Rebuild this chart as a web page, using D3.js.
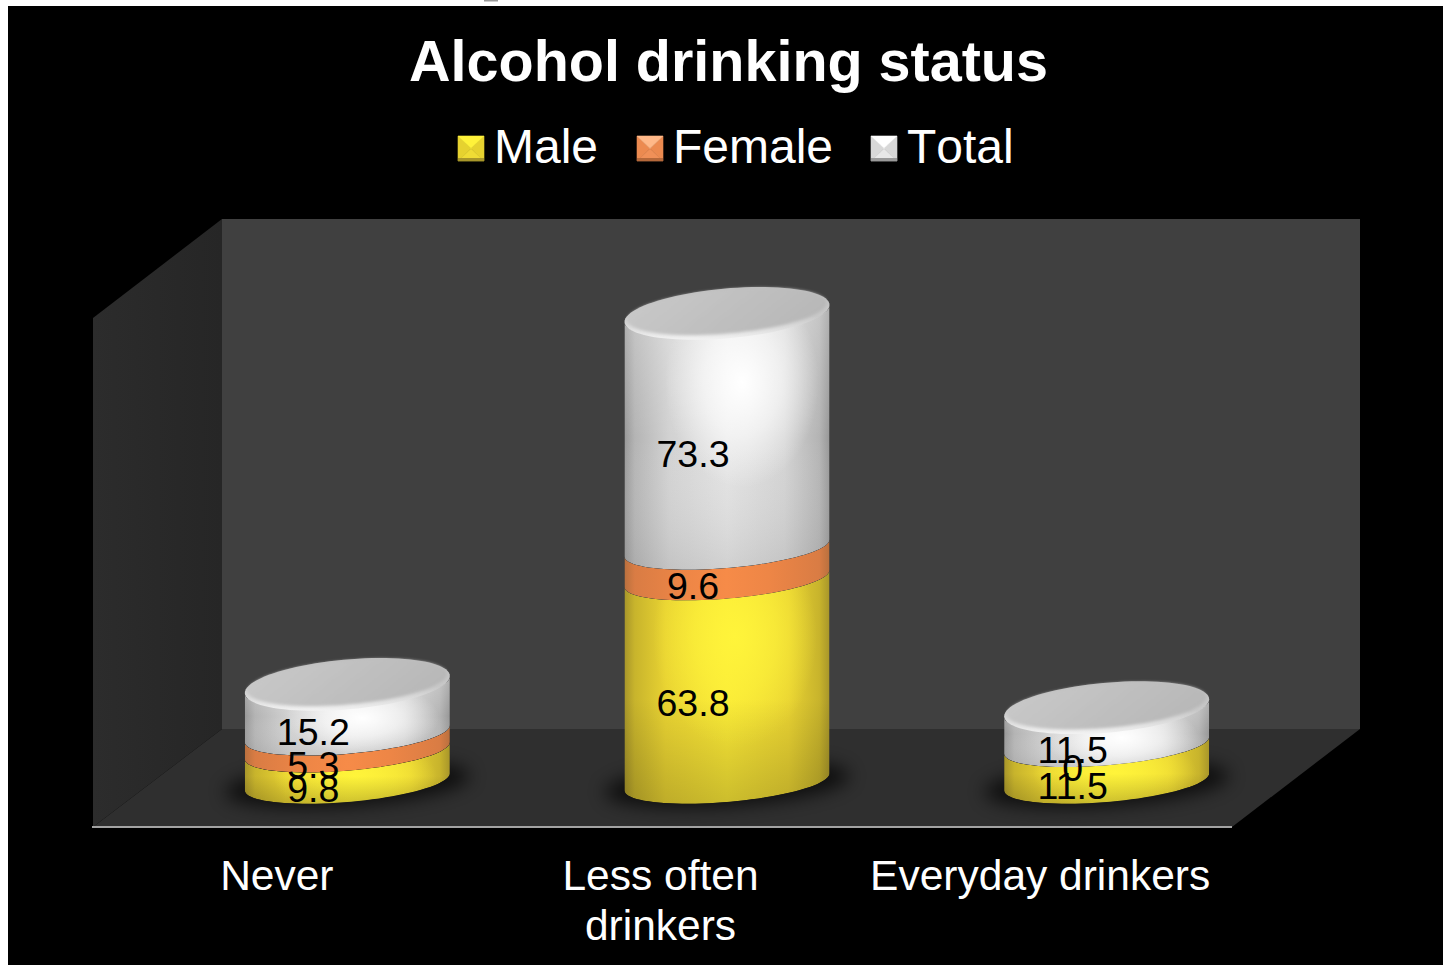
<!DOCTYPE html>
<html><head><meta charset="utf-8">
<script src="https://cdn.jsdelivr.net/npm/d3@7"></script>
<style>html,body{margin:0;padding:0;background:#fff;overflow:hidden}svg{display:block}text{font-family:"Liberation Sans",Arial,sans-serif}</style>
</head><body><svg id="c" width="1443" height="965"></svg>
<script>
const categories = ["Never", "Less often drinkers", "Everyday drinkers"];
const seriesNames = ["Male", "Female", "Total"];
const male = [9.8, 63.8, 11.5];
const female = [5.3, 9.6, 0];
const total = [15.2, 73.3, 11.5];
const labelText = [["9.8","5.3","15.2"],["63.8","9.6","73.3"],["11.5","0","11.5"]];
const title = "Alcohol drinking status";

const svg = d3.select("#c");
const defs = svg.append("defs");
svg.append("rect").attr("x",8).attr("y",6).attr("width",1435).attr("height",959).attr("fill","#000");
svg.append("rect").attr("x",484).attr("y",0).attr("width",14).attr("height",1.5).attr("fill","#999");

// scales
const y = d3.scaleLinear().domain([0,160]).range([782,272]);
const x = d3.scaleBand().domain(categories).range([157.5,1296.5]).paddingInner(0.46).paddingOuter(0.23);
const xFront = d3.scaleBand().domain(categories).range([93,1232]);

function grad(id, stops, o={x1:0,y1:0,x2:1,y2:0}){
  const g = defs.append("linearGradient").attr("id",id);
  Object.entries(o).forEach(([k,v])=>g.attr(k,v));
  stops.forEach(s=>g.append("stop").attr("offset",s[0]).attr("stop-color",s[1]).attr("stop-opacity",s[2]===undefined?1:s[2]));
}
function radial(id, color, op){
  const h = defs.append("radialGradient").attr("id",id).attr("cx",.5).attr("cy",.5).attr("r",.5);
  h.append("stop").attr("offset",0).attr("stop-color",color).attr("stop-opacity",op);
  h.append("stop").attr("offset",.5).attr("stop-color",color).attr("stop-opacity",op*.6);
  h.append("stop").attr("offset",1).attr("stop-color",color).attr("stop-opacity",0);
}
grad("leftWall",[[0,"#2c2c2c"],[1,"#262626"]]);
grad("side0",[[0,"#a8962a"],[.05,"#c8b42c"],[.2,"#e8d232"],[.5,"#f8e636"],[.8,"#e8d232"],[.95,"#c8b42c"],[1,"#a8962a"]]);
grad("side1",[[0,"#b9703e"],[.05,"#d97c44"],[.3,"#ee8646"],[.5,"#f68b48"],[.7,"#ee8646"],[.95,"#d97c44"],[1,"#b9703e"]]);
grad("side2",[[0,"#989898"],[.05,"#b4b4b4"],[.22,"#d2d2d2"],[.5,"#e2e2e2"],[.78,"#d2d2d2"],[.95,"#b4b4b4"],[1,"#989898"]]);
grad("dark",[[0,"#000",0],[.55,"#000",0],[1,"#000",.18]],{x1:0,y1:0,x2:0,y2:1});
grad("greyDown",[[0,"#fff",.25],[.5,"#fff",0],[1,"#888",.2]],{x1:0,y1:0,x2:0,y2:1});
grad("rim",[[0,"#bdbdbd"],[.55,"#c8c8c8"],[1,"#f2f2f2"]],{x1:0,y1:0,x2:0,y2:1});
grad("faceFill",[[0,"#cacaca"],[1,"#b8b8b8"]],{x1:0,y1:0,x2:1,y2:.3});
radial("hlWhite","#fff",1);
radial("hlYellow","#fff43a",1);
defs.append("filter").attr("id","blur").attr("x","-30%").attr("y","-60%").attr("width","160%").attr("height","220%")
  .append("feGaussianBlur").attr("stdDeviation",9);
defs.append("filter").attr("id","blur2").attr("x","-10%").attr("y","-20%").attr("width","120%").attr("height","140%")
  .append("feGaussianBlur").attr("stdDeviation",1.8);

// walls
const poly = pts => "M"+pts.map(p=>p.join(",")).join("L")+"Z";
svg.append("path").attr("d",poly([[222,219],[1360,219],[1360,729],[222,729]])).attr("fill","#404040");
svg.append("path").attr("d",poly([[93,318],[222,219],[222,729],[93,827]])).attr("fill","url(#leftWall)");
svg.append("path").attr("d",poly([[93,827],[222,729],[1360,729],[1232,827]])).attr("fill","#2f2f2f");
svg.append("line").attr("x1",92).attr("x2",1232).attr("y1",827).attr("y2",827).attr("stroke","#a3a3a3").attr("stroke-width",2);

const tilt = -8.5, sideB = 20, topB = 24;
const angles = d3.range(0,181,4).map(d=>d*Math.PI/180);
const arcPt = (cx,cy,a,b,t)=>[cx+a*Math.cos(t), cy+tilt*Math.cos(t)+b*Math.sin(t)];
const ln = d3.line();

categories.forEach((cat,i)=>{
  const a = x.bandwidth()/2, cx = x(cat)+a;
  const g = svg.append("g");
  const vals = [male[i],female[i],total[i]];
  const stack = Array.from(d3.cumsum(vals));
  const cum = [0].concat(stack);
  // shadow
  g.append("ellipse").attr("cx",cx).attr("cy",y(0)+2).attr("rx",a+20).attr("ry",22)
    .attr("transform",`rotate(-4 ${cx} ${y(0)+2})`).attr("fill","#000").attr("opacity",.7).attr("filter","url(#blur)");
  vals.forEach((v,k)=>{
    if(v<=0) return;
    const lo = y(cum[k]), hi = y(cum[k+1]);
    const bot = angles.slice().reverse().map(t=>arcPt(cx,lo,a,sideB,t));
    const top = angles.map(t=>arcPt(cx,hi,a,sideB,t));
    const d = ln(bot.concat(top))+"Z";
    const clipId = `cl${i}${k}`;
    defs.append("clipPath").attr("id",clipId).append("path").attr("d",d);
    const seg = g.append("g").attr("clip-path",`url(#${clipId})`);
    seg.append("path").attr("d",d).attr("fill",`url(#side${k})`);
    const h = lo-hi;
    if(k===0){
      seg.append("ellipse").attr("cx",cx+8).attr("cy",hi+Math.min(h*.25,40)+18)
        .attr("rx",a*.8).attr("ry",Math.max(h*.55,40)).attr("fill","url(#hlYellow)");
      seg.append("path").attr("d",d).attr("fill","url(#dark)");
    }
    if(k===2){
      seg.append("path").attr("d",d).attr("fill","url(#greyDown)");
      seg.append("ellipse").attr("cx",cx+15).attr("cy",hi+Math.min(h*.3,50)+18)
        .attr("rx",a*.75).attr("ry",Math.max(h*.45,36)).attr("fill","url(#hlWhite)");
    }
  });
  // top face
  const t = y(stack[2]);
  const full = d3.range(0,361,4).map(d=>d*Math.PI/180);
  const face = (c,aa,b)=>ln(full.map(q=>arcPt(cx,c,aa,b,q)))+"Z";
  g.append("path").attr("d",face(t-1,a,topB+1)).attr("fill","url(#rim)");
  g.append("path").attr("d",face(t-3,a-3,topB-2)).attr("fill","url(#faceFill)").attr("filter","url(#blur2)");
  // value labels
  vals.forEach((v,k)=>{
    g.append("text").attr("x",cx-34).attr("y",y((cum[k]+cum[k+1])/2)+22.5)
      .attr("dy","0.35em").attr("text-anchor","middle").attr("font-size",37.5).attr("fill","#000").text(labelText[i][k]);
  });
});

// title
svg.append("text").attr("x",728.5).attr("y",81).attr("text-anchor","middle")
  .attr("font-size",57.5).attr("font-weight","bold").attr("fill","#fff").text(title);

// legend
const legendColors = [["#fff23a","#e6d22f","#a8962a","#efdc35"],["#ffb888","#ec8a50","#b5683a","#f09058"],["#ffffff","#d8d8d8","#9a9a9a","#e8e8e8"]];
const legendX = [458,637,871], textX = [494,673,907];
seriesNames.forEach((n,i)=>{
  const g = svg.append("g").attr("transform",`translate(${legendX[i]},136)`);
  const s=26, b=25, m=s/2;
  const c = legendColors[i];
  const tri = (pts,col)=>g.append("path").attr("d",poly(pts)).attr("fill",col).attr("stroke",col).attr("stroke-width",.6);
  tri([[0,0],[m,b/2],[0,b]],c[1]);
  tri([[s,0],[m,b/2],[s,b]],c[1]);
  tri([[0,b],[m,b/2],[s,b]],c[3]);
  tri([[0,0],[s,0],[m,b/2]],c[0]);
  g.append("rect").attr("y",b-3).attr("width",s).attr("height",3).attr("fill",c[2]);
  svg.append("text").attr("x",textX[i]).attr("y",163).attr("font-size",48).style("font-kerning","none").attr("fill","#fff").text(n);
});

// category axis
const axis = d3.axisBottom(xFront).tickSize(0).tickPadding(0).tickFormat(()=>"");
const ax = svg.append("g").attr("transform","translate(-2,847)").call(axis);
ax.select(".domain").remove();
ax.selectAll(".tick").each(function(d){
  const words = d==="Less often drinkers" ? ["Less often","drinkers"] : [d];
  const txt = d3.select(this).select("text").attr("font-size",42.5).attr("font-family",null).attr("fill","#fff").attr("text-anchor","middle").attr("y",null).attr("dy",null);
  txt.text(null);
  words.forEach((w,j)=>txt.append("tspan").attr("x",d==="Never"?-4:0).attr("y",43+j*50).text(w));
});
</script></body></html>
